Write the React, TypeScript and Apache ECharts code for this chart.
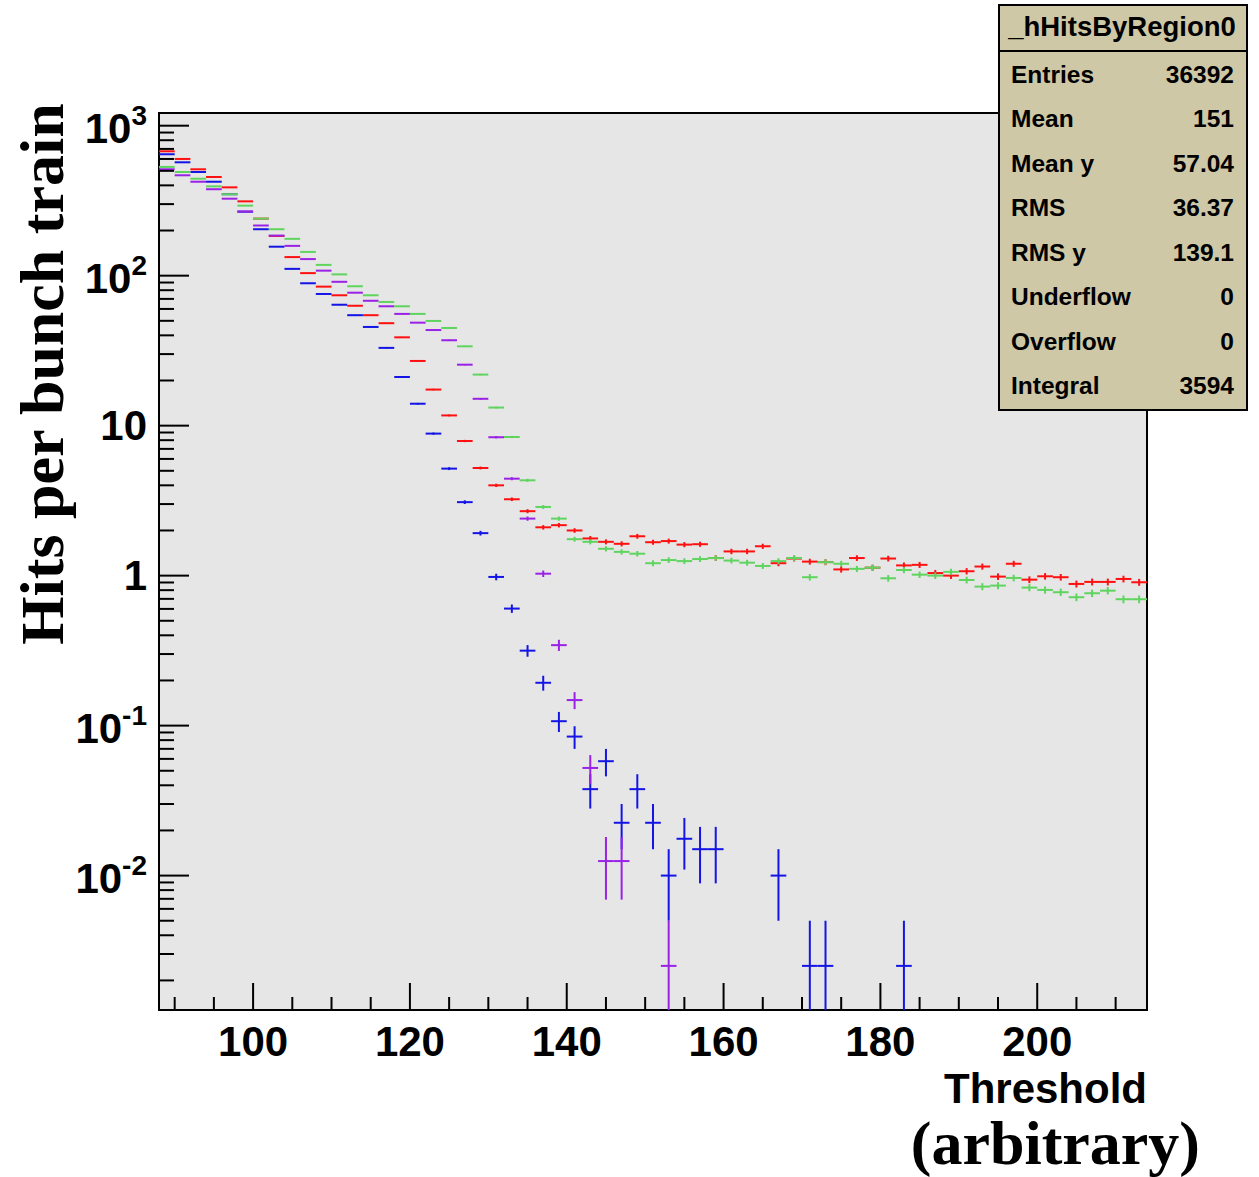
import React, { useEffect, useRef } from "react";
import * as echarts from "echarts";

// ---------- data ----------
const binCenters = [
  89, 91, 93, 95, 97, 99, 101, 103, 105, 107,
  109, 111, 113, 115, 117, 119, 121, 123, 125, 127,
  129, 131, 133, 135, 137, 139, 141, 143, 145, 147,
  149, 151, 153, 155, 157, 159, 161, 163, 165, 167,
  169, 171, 173, 175, 177, 179, 181, 183, 185, 187,
  189, 191, 193, 195, 197, 199, 201, 203, 205, 207,
  209, 211, 213,
];

const redValues = [
  675, 600, 512, 455, 388, 313, 240, 184, 133, 104,
  84.5, 74, 63, 54.5, 48.2, 38.8, 27, 17.4, 11.7, 7.9,
  5.22, 4.0, 3.23, 2.69, 2.1, 2.17, 2.0, 1.77, 1.68, 1.63,
  1.83, 1.67, 1.7, 1.61, 1.62, 1.31, 1.45, 1.45, 1.57, 1.21,
  1.3, 1.24, 1.23, 1.1, 1.31, 1.13, 1.3, 1.17, 1.18, 1.04,
  1.0, 1.07, 1.15, 0.985, 1.2, 0.94, 0.99, 0.976, 0.88, 0.908,
  0.908, 0.95, 0.903,
];

const greenValues = [
  531, 491, 443, 394, 349, 293, 240, 204, 176, 144,
  118, 102, 85, 74, 66.8, 62.5, 55.6, 49.9, 44.8, 33.8,
  21.9, 13.2, 8.4, 4.32, 2.87, 2.4, 1.75, 1.68, 1.51, 1.44,
  1.4, 1.21, 1.27, 1.25, 1.29, 1.31, 1.26, 1.22, 1.16, 1.25,
  1.31, 0.976, 1.23, 1.2, 1.11, 1.13, 0.96, 1.09, 1.015, 1.0,
  1.06, 0.935, 0.845, 0.858, 0.965, 0.832, 0.803, 0.775, 0.718, 0.763,
  0.794, 0.696, 0.696,
];

const purpleValues: (number | null)[] = [
  512, 467, 423, 377, 326, 268, 216, 185, 158, 129,
  108, 91, 77, 68, 62.5, 55.6, 48.6, 43.4, 37.1, 25.5,
  15.1, 8.37, 4.43, 2.4, 1.03, 0.344, 0.148, 0.0522, 0.0125, 0.0125,
  null, null, 0.0025, null, null, null, null, null, null, null,
  null, null, null, null, null, null, null, null, null, null,
  null, null, null, null, null, null, null, null, null, null,
  null, null, null,
];

const blueValues: (number | null)[] = [
  645, 570, 491, 423, 349, 267, 204, 156, 111, 89,
  75.5, 64, 54.5, 45.5, 33, 21.1, 14, 8.85, 5.17, 3.09,
  1.92, 0.98, 0.603, 0.316, 0.193, 0.107, 0.0845, 0.0377, 0.0579, 0.0225,
  0.0377, 0.0225, 0.01, 0.0176, 0.015, 0.015, null, null, null, 0.01,
  null, 0.0025, 0.0025, null, null, null, null, 0.0025, null, null,
  null, null, null, null, null, null, null, null, null, null,
  null, null, null,
];

// number of bunch trains (counts per unit of y) used for the Poisson error bars
const TRAINS = 400;

const xTickLabels = [100, 120, 140, 160, 180, 200];
const xMajorTicks = [100, 120, 140, 160, 180, 200];
const xMinorTicks = [90, 95, 105, 110, 115, 125, 130, 135, 145, 150, 155, 165, 170, 175, 185, 190, 195, 205, 210];
const yTickExponents = [-2, -1, 0, 1, 2, 3];
const yMajorTicks = [0.01, 0.1, 1, 10, 100, 1000];
const yMinorTicks = [
  0.002, 0.003, 0.004, 0.005, 0.006, 0.007, 0.008, 0.009,
  0.02, 0.03, 0.04, 0.05, 0.06, 0.07, 0.08, 0.09,
  0.2, 0.3, 0.4, 0.5, 0.6, 0.7, 0.8, 0.9,
  2, 3, 4, 5, 6, 7, 8, 9,
  20, 30, 40, 50, 60, 70, 80, 90,
  200, 300, 400, 500, 600, 700, 800, 900,
];

const statLabels = ["Entries", "Mean", "Mean y", "RMS", "RMS y", "Underflow", "Overflow", "Integral"];
const statValues = ["36392", "151", "57.04", "36.37", "139.1", "0", "0", "3594"];

// ---------- layout / style ----------
const X_MIN = 88;
const X_MAX = 214;
const Y_MIN = 0.00127;
const Y_MAX = 1215;
const BIN_HALF = 1;
const SANS = "'Liberation Sans', Arial, Helvetica, sans-serif";
const SERIF = "'Liberation Serif', 'Times New Roman', serif";

const COLORS = {
  red: "#ff1010",
  blue: "#1414e6",
  purple: "#9a22e6",
  green: "#5fd45f",
};

function toPoints(values: (number | null)[]) {
  const out: number[][] = [];
  values.forEach((v, i) => {
    if (v !== null && v !== undefined) out.push([binCenters[i], v]);
  });
  return out;
}

function errorBarRenderer(color: string) {
  return (params: any, api: any) => {
    const x = api.value(0);
    const v = api.value(1);
    const err = Math.sqrt(v / TRAINS);
    const hi = v + err;
    const lo = Math.max(v - err, Y_MIN);
    const pL = api.coord([x - BIN_HALF, v]);
    const pR = api.coord([x + BIN_HALF, v]);
    const pT = api.coord([x, hi]);
    const pB = api.coord([x, lo]);
    return {
      type: "group",
      children: [
        { type: "line", shape: { x1: pL[0], y1: pL[1], x2: pR[0], y2: pR[1] }, style: { stroke: color, lineWidth: 2 } },
        { type: "line", shape: { x1: pT[0], y1: pT[1], x2: pB[0], y2: pB[1] }, style: { stroke: color, lineWidth: 2 } },
      ],
    };
  };
}

// tick data: [x, y, kind]  kind 0=y major,1=y minor,2=x major,3=x minor
function buildTicks() {
  const t: number[][] = [];
  yMajorTicks.forEach((v) => t.push([X_MIN, v, 0]));
  yMinorTicks.forEach((v) => t.push([X_MIN, v, 1]));
  xMajorTicks.forEach((v) => t.push([v, 1, 2]));
  xMinorTicks.forEach((v) => t.push([v, 1, 3]));
  return t;
}

function tickRenderer(params: any, api: any) {
  const cs = params.coordSys;
  const kind = api.value(2);
  const p = api.coord([api.value(0), api.value(1)]);
  const style = { stroke: "#000", lineWidth: 2 };
  if (kind === 0 || kind === 1) {
    const len = kind === 0 ? 30 : 15;
    return { type: "line", shape: { x1: cs.x, y1: p[1], x2: cs.x + len, y2: p[1] }, style };
  }
  const len = kind === 2 ? 27 : 13;
  const yb = cs.y + cs.height;
  return { type: "line", shape: { x1: p[0], y1: yb, x2: p[0], y2: yb - len }, style };
}

function yLabelFormatter(value: number) {
  const lg = Math.log10(value);
  const idx = yTickExponents.indexOf(Math.round(lg));
  if (idx < 0 || Math.abs(lg - Math.round(lg)) > 1e-6) return "";
  const e = yTickExponents[idx];
  if (e === 0) return "1";
  if (e === 1) return "10";
  return `{b|10}{s|${e}}`;
}

export default function App() {
  const ref = useRef<HTMLDivElement>(null);

  useEffect(() => {
    if (!ref.current) return;
    const chart = echarts.init(ref.current, undefined, { renderer: "svg" });

    const statGraphics: any[] = [];
    const rowY0 = 74;
    const rowStep = 44.5;
    statLabels.forEach((lab, i) => {
      statGraphics.push({
        type: "text",
        x: 1011,
        y: rowY0 + i * rowStep,
        style: { text: lab, font: `bold 24.5px ${SANS}`, fill: "#000", align: "left", verticalAlign: "middle" },
      });
      statGraphics.push({
        type: "text",
        x: 1234,
        y: rowY0 + i * rowStep,
        style: { text: statValues[i], font: `bold 24.5px ${SANS}`, fill: "#000", align: "right", verticalAlign: "middle" },
      });
    });

    const option: any = {
      animation: false,
      backgroundColor: "#ffffff",
      grid: {
        left: 159,
        top: 113,
        width: 988,
        height: 897,
        show: true,
        backgroundColor: "#e6e6e6",
        borderColor: "#000",
        borderWidth: 2,
        containLabel: false,
        outerBoundsMode: "none",
      },
      xAxis: {
        type: "value",
        min: X_MIN,
        max: X_MAX,
        axisLine: { show: false },
        axisTick: { show: false },
        splitLine: { show: false },
        axisLabel: {
          customValues: xTickLabels,
          fontSize: 42,
          fontWeight: "bold",
          fontFamily: SANS,
          color: "#000",
          margin: 10,
        },
      },
      yAxis: {
        type: "log",
        logBase: 10,
        min: Y_MIN,
        max: Y_MAX,
        axisLine: { show: false },
        axisTick: { show: false },
        splitLine: { show: false },
        axisLabel: {
          formatter: yLabelFormatter,
          showMinLabel: false,
          showMaxLabel: false,
          fontSize: 42,
          fontWeight: "bold",
          fontFamily: SANS,
          color: "#000",
          margin: 12,
          rich: {
            b: { fontSize: 42, fontWeight: "bold", fontFamily: SANS, color: "#000", lineHeight: 48, verticalAlign: "bottom" },
            s: { fontSize: 28, fontWeight: "bold", fontFamily: SANS, color: "#000", lineHeight: 30, verticalAlign: "top" },
          },
        },
      },
      series: [
        { type: "custom", name: "red", renderItem: errorBarRenderer(COLORS.red), data: toPoints(redValues), clip: true, silent: true, z: 2 },
        { type: "custom", name: "blue", renderItem: errorBarRenderer(COLORS.blue), data: toPoints(blueValues), clip: true, silent: true, z: 3 },
        { type: "custom", name: "purple", renderItem: errorBarRenderer(COLORS.purple), data: toPoints(purpleValues), clip: true, silent: true, z: 4 },
        { type: "custom", name: "green", renderItem: errorBarRenderer(COLORS.green), data: toPoints(greenValues), clip: true, silent: true, z: 5 },
        { type: "custom", name: "ticks", renderItem: tickRenderer, data: buildTicks(), clip: false, silent: true, z: 6 },
      ],
      graphic: [
        {
          type: "text",
          x: 42,
          y: 374,
          rotation: Math.PI / 2,
          style: { text: "Hits per bunch train", font: `bold 62px ${SERIF}`, fill: "#000", align: "center", verticalAlign: "middle" },
        },
        {
          type: "text",
          x: 1147,
          y: 1088,
          style: { text: "Threshold", font: `bold 42px ${SANS}`, fill: "#000", align: "right", verticalAlign: "middle" },
        },
        {
          type: "text",
          x: 1200,
          y: 1143,
          style: { text: "(arbitrary)", font: `bold 62px ${SERIF}`, fill: "#000", align: "right", verticalAlign: "middle" },
        },
        {
          type: "group",
          z: 100,
          children: [
            { type: "rect", shape: { x: 999, y: 5, width: 248, height: 405 }, style: { fill: "#cec8a7", stroke: "#000", lineWidth: 2 } },
            { type: "line", shape: { x1: 999, y1: 51, x2: 1247, y2: 51 }, style: { stroke: "#000", lineWidth: 2 } },
            {
              type: "text",
              x: 1122,
              y: 26,
              style: { text: "_hHitsByRegion0", font: `bold 27.5px ${SANS}`, fill: "#000", align: "center", verticalAlign: "middle" },
            },
            ...statGraphics,
          ],
        },
      ],
    };

    chart.setOption(option);
    return () => chart.dispose();
  }, []);

  return (
    <div
      ref={ref}
      style={{ position: "fixed", left: 0, top: 0, width: 1259, height: 1177, background: "#fff" }}
    />
  );
}
